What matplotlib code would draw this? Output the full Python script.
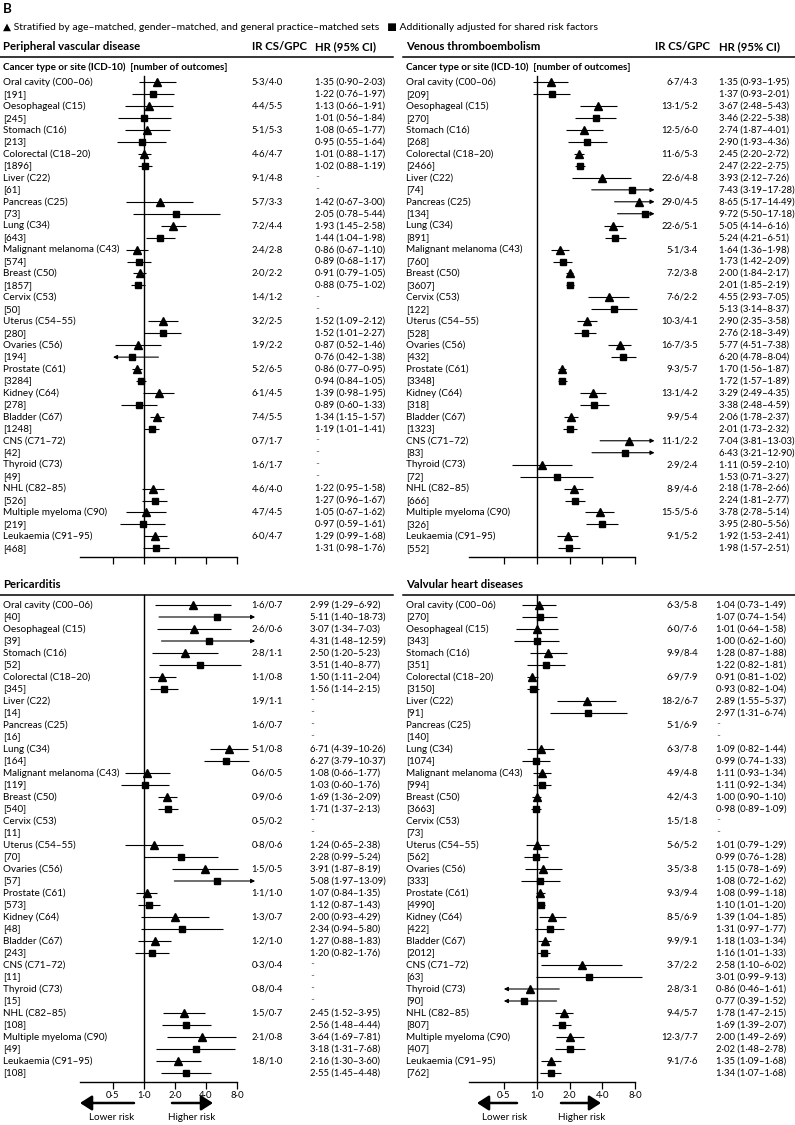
import numpy as np
import matplotlib
matplotlib.use('Agg')
import matplotlib.pyplot as plt
from matplotlib.transforms import blended_transform_factory
from matplotlib.ticker import NullLocator

plt.rcParams['font.family'] = ['Lato', 'DejaVu Sans']

W, H = 795, 1125

cancers = ["Oral cavity (C00–06)", "Oesophageal (C15)", "Stomach (C16)", "Colorectal (C18–20)",
           "Liver (C22)", "Pancreas (C25)", "Lung (C34)", "Malignant melanoma (C43)", "Breast (C50)",
           "Cervix (C53)", "Uterus (C54–55)", "Ovaries (C56)", "Prostate (C61)", "Kidney (C64)",
           "Bladder (C67)", "CNS (C71–72)", "Thyroid (C73)", "NHL (C82–85)",
           "Multiple myeloma (C90)", "Leukaemia (C91–95)"]

# Peripheral vascular disease
pvd_n = [191, 245, 213, 1896, 61, 73, 643, 574, 1857, 50, 280, 194, 3284, 278, 1248, 42, 49, 526, 219, 468]
pvd_ir = ["5·3/4·0", "4·4/5·5", "5·1/5·3", "4·6/4·7", "9·1/4·8", "5·7/3·3", "7·2/4·4", "2·4/2·8",
          "2·0/2·2", "1·4/1·2", "3·2/2·5", "1·9/2·2", "5·2/6·5", "6·1/4·5", "7·4/5·5", "0·7/1·7",
          "1·6/1·7", "4·6/4·0", "4·7/4·5", "6·0/4·7"]
pvd_strat = [(1.35, 0.90, 2.03), (1.13, 0.66, 1.91), (1.08, 0.65, 1.77), (1.01, 0.88, 1.17), None,
             (1.42, 0.67, 3.00), (1.93, 1.45, 2.58), (0.86, 0.67, 1.10), (0.91, 0.79, 1.05), None,
             (1.52, 1.09, 2.12), (0.87, 0.52, 1.46), (0.86, 0.77, 0.95), (1.39, 0.98, 1.95),
             (1.34, 1.15, 1.57), None, None, (1.22, 0.95, 1.58), (1.05, 0.67, 1.62), (1.29, 0.99, 1.68)]
pvd_adj = [(1.22, 0.76, 1.97), (1.01, 0.56, 1.84), (0.95, 0.55, 1.64), (1.02, 0.88, 1.19), None,
           (2.05, 0.78, 5.44), (1.44, 1.04, 1.98), (0.89, 0.68, 1.17), (0.88, 0.75, 1.02), None,
           (1.52, 1.01, 2.27), (0.76, 0.42, 1.38), (0.94, 0.84, 1.05), (0.89, 0.60, 1.33),
           (1.19, 1.01, 1.41), None, None, (1.27, 0.96, 1.67), (0.97, 0.59, 1.61), (1.31, 0.98, 1.76)]

# Venous thromboembolism
vte_n = [209, 270, 268, 2466, 74, 134, 891, 760, 3607, 122, 528, 432, 3348, 318, 1323, 83, 72, 666, 326, 552]
vte_ir = ["6·7/4·3", "13·1/5·2", "12·5/6·0", "11·6/5·3", "22·6/4·8", "29·0/4·5", "22·6/5·1", "5·1/3·4",
          "7·2/3·8", "7·6/2·2", "10·3/4·1", "16·7/3·5", "9·3/5·7", "13·1/4·2", "9·9/5·4", "11·1/2·2",
          "2·9/2·4", "8·9/4·6", "15·5/5·6", "9·1/5·2"]
vte_strat = [(1.35, 0.93, 1.95), (3.67, 2.48, 5.43), (2.74, 1.87, 4.01), (2.45, 2.20, 2.72),
             (3.93, 2.12, 7.26), (8.65, 5.17, 14.49), (5.05, 4.14, 6.16), (1.64, 1.36, 1.98),
             (2.00, 1.84, 2.17), (4.55, 2.93, 7.05), (2.90, 2.35, 3.58), (5.77, 4.51, 7.38),
             (1.70, 1.56, 1.87), (3.29, 2.49, 4.35), (2.06, 1.78, 2.37), (7.04, 3.81, 13.03),
             (1.11, 0.59, 2.10), (2.18, 1.78, 2.66), (3.78, 2.78, 5.14), (1.92, 1.53, 2.41)]
vte_adj = [(1.37, 0.93, 2.01), (3.46, 2.22, 5.38), (2.90, 1.93, 4.36), (2.47, 2.22, 2.75),
           (7.43, 3.19, 17.28), (9.72, 5.50, 17.18), (5.24, 4.21, 6.51), (1.73, 1.42, 2.09),
           (2.01, 1.85, 2.19), (5.13, 3.14, 8.37), (2.76, 2.18, 3.49), (6.20, 4.78, 8.04),
           (1.72, 1.57, 1.89), (3.38, 2.48, 4.59), (2.01, 1.73, 2.32), (6.43, 3.21, 12.90),
           (1.53, 0.71, 3.27), (2.24, 1.81, 2.77), (3.95, 2.80, 5.56), (1.98, 1.57, 2.51)]

# Pericarditis
per_n = [40, 39, 52, 345, 14, 16, 164, 119, 540, 11, 70, 57, 573, 48, 243, 11, 15, 108, 49, 108]
per_ir = ["1·6/0·7", "2·6/0·6", "2·8/1·1", "1·1/0·8", "1·9/1·1", "1·6/0·7", "5·1/0·8", "0·6/0·5",
          "0·9/0·6", "0·5/0·2", "0·8/0·6", "1·5/0·5", "1·1/1·0", "1·3/0·7", "1·2/1·0", "0·3/0·4",
          "0·8/0·4", "1·5/0·7", "2·1/0·8", "1·8/1·0"]
per_strat = [(2.99, 1.29, 6.92), (3.07, 1.34, 7.03), (2.50, 1.20, 5.23), (1.50, 1.11, 2.04), None, None,
             (6.71, 4.39, 10.26), (1.08, 0.66, 1.77), (1.69, 1.36, 2.09), None, (1.24, 0.65, 2.38),
             (3.91, 1.87, 8.19), (1.07, 0.84, 1.35), (2.00, 0.93, 4.29), (1.27, 0.88, 1.83), None, None,
             (2.45, 1.52, 3.95), (3.64, 1.69, 7.81), (2.16, 1.30, 3.60)]
per_adj = [(5.11, 1.40, 18.73), (4.31, 1.48, 12.59), (3.51, 1.40, 8.77), (1.56, 1.14, 2.15), None, None,
           (6.27, 3.79, 10.37), (1.03, 0.60, 1.76), (1.71, 1.37, 2.13), None, (2.28, 0.99, 5.24),
           (5.08, 1.97, 13.09), (1.12, 0.87, 1.43), (2.34, 0.94, 5.80), (1.20, 0.82, 1.76), None, None,
           (2.56, 1.48, 4.44), (3.18, 1.31, 7.68), (2.55, 1.45, 4.48)]

# Valvular heart diseases
val_n = [270, 343, 351, 3150, 91, 140, 1074, 994, 3663, 73, 562, 333, 4990, 422, 2012, 63, 90, 807, 407, 762]
val_ir = ["6·3/5·8", "6·0/7·6", "9·9/8·4", "6·9/7·9", "18·2/6·7", "5·1/6·9", "6·3/7·8", "4·9/4·8",
          "4·2/4·3", "1·5/1·8", "5·6/5·2", "3·5/3·8", "9·3/9·4", "8·5/6·9", "9·9/9·1", "3·7/2·2",
          "2·8/3·1", "9·4/5·7", "12·3/7·7", "9·1/7·6"]
val_strat = [(1.04, 0.73, 1.49), (1.01, 0.64, 1.58), (1.28, 0.87, 1.88), (0.91, 0.81, 1.02),
             (2.89, 1.55, 5.37), None, (1.09, 0.82, 1.44), (1.11, 0.93, 1.34), (1.00, 0.90, 1.10), None,
             (1.01, 0.79, 1.29), (1.15, 0.78, 1.69), (1.08, 0.99, 1.18), (1.39, 1.04, 1.85),
             (1.18, 1.03, 1.34), (2.58, 1.10, 6.02), (0.86, 0.46, 1.61), (1.78, 1.47, 2.15),
             (2.00, 1.49, 2.69), (1.35, 1.09, 1.68)]
val_adj = [(1.07, 0.74, 1.54), (1.00, 0.62, 1.60), (1.22, 0.82, 1.81), (0.93, 0.82, 1.04),
           (2.97, 1.31, 6.74), None, (0.99, 0.74, 1.33), (1.11, 0.92, 1.34), (0.98, 0.89, 1.09), None,
           (0.99, 0.76, 1.28), (1.08, 0.72, 1.62), (1.10, 1.01, 1.20), (1.31, 0.97, 1.77),
           (1.16, 1.01, 1.33), (3.01, 0.99, 9.13), (0.77, 0.39, 1.52), (1.69, 1.39, 2.07),
           (2.02, 1.48, 2.78), (1.34, 1.07, 1.68)]

ticks = [0.5, 1, 2, 4, 8]
tick_labels = ["0·5", "1·0", "2·0", "4·0", "8·0"]
LOW_CUT, HIGH_CUT = 0.5, 12.0
FS = 7.1       # row labels
NFS = 6.8      # numeric columns
TFS = 8.2      # panel titles


def fmt_hr(v):
    s = f"{v[0]:.2f} ({v[1]:.2f}–{v[2]:.2f})"
    return s.replace(".", "·")


def fy(py):
    return 1 - py / H


def draw_ci(ax, v, y, marker, ms):
    hr, lo, hi = v
    if lo < LOW_CUT:
        ax.annotate('', xy=(LOW_CUT, y), xytext=(hi, y), annotation_clip=False,
                    arrowprops=dict(arrowstyle='-|>', color='k', lw=0.8, mutation_scale=6,
                                    shrinkA=0, shrinkB=0))
    elif hi > HIGH_CUT:
        ax.annotate('', xy=(HIGH_CUT, y), xytext=(lo, y), annotation_clip=False,
                    arrowprops=dict(arrowstyle='-|>', color='k', lw=0.8, mutation_scale=6,
                                    shrinkA=0, shrinkB=0))
    else:
        ax.plot([lo, hi], [y, y], color='k', lw=0.8, clip_on=False, solid_capstyle='butt')
    ax.plot([hr], [y], marker=marker, ms=ms, color='k', mec='k', clip_on=False, zorder=5)


def panel(fig, title, n, ir, strat, adj, x0, x1, c, s, rule_y, first_y, step, axis_y,
          ir_right, hr_left, header=None, labels=False):
    lab_x = x0 + 3
    fig.text(lab_x / W, fy(rule_y - 10), title, fontsize=TFS, fontweight='bold', va='center')
    fig.add_artist(plt.Line2D([x0 / W, x1 / W], [fy(rule_y), fy(rule_y)], color='k', lw=1.1))
    if header is not None:
        fig.text(header[0] / W, fy(rule_y - 10), "IR CS/GPC", fontsize=TFS,
                 fontweight='bold', va='center')
        fig.text(header[1] / W, fy(rule_y - 10), "HR (95% CI)", fontsize=TFS,
                 fontweight='bold', va='center')
        fig.text(lab_x / W, fy(rule_y + 10.5), "Cancer type or site (ICD-10)  [number of outcomes]",
                 fontsize=FS, fontweight='bold', va='center')

    L, R = c - 90, c + 140
    ax = fig.add_axes([L / W, fy(axis_y), (R - L) / W, (axis_y - rule_y) / H])
    ax.set_xscale('log', base=2)
    ax.set_xlim(2 ** ((L - c) / s), 2 ** ((R - c) / s))
    ax.set_ylim((axis_y - first_y) / step, (rule_y - first_y) / step)
    ax.patch.set_visible(False)
    for sp in ['top', 'right', 'left']:
        ax.spines[sp].set_visible(False)
    ax.spines['bottom'].set_bounds(2 ** ((80 - 144) / 31), 8)
    ax.spines['bottom'].set_linewidth(1.0)
    ax.set_yticks([])
    ax.set_xticks(ticks)
    ax.xaxis.set_minor_locator(NullLocator())
    ax.tick_params(axis='x', length=5, width=0.9, direction='out', pad=1.5, labelsize=NFS)
    if labels:
        ax.set_xticklabels(tick_labels)
    else:
        ax.set_xticklabels([])

    vtop = (rule_y + 19 - first_y) / step if header is not None else (rule_y - first_y) / step
    ax.plot([1, 1], [vtop, (axis_y - first_y) / step], color='k', lw=1.0, clip_on=False)

    tr = blended_transform_factory(fig.transFigure, ax.transData)
    for i, name in enumerate(cancers):
        y1, y2 = 2 * i, 2 * i + 1
        ax.text(lab_x / W, y1, name, transform=tr, fontsize=FS, va='center')
        ax.text(lab_x / W, y2, f"[{n[i]}]", transform=tr, fontsize=FS, va='center')
        ax.text(ir_right / W, y1, ir[i], transform=tr, fontsize=NFS, va='center', ha='right')
        for v, y, mk, ms in [(strat[i], y1, '^', 5.4), (adj[i], y2, 's', 4.4)]:
            if v is None:
                ax.text(hr_left / W, y, "··", transform=tr, fontsize=NFS - 1, va='center',
                        family='DejaVu Sans')
            else:
                ax.text(hr_left / W, y, fmt_hr(v), transform=tr, fontsize=NFS, va='center')
                draw_ci(ax, v, y, mk, ms)
    return ax


fig = plt.figure(figsize=(W / 100, H / 100), dpi=100)

fig.text(3 / W, fy(9), "B", fontsize=9.5, fontweight='bold', va='center')
fig.text(3 / W, fy(28), "▲ Stratified by age–matched, gender–matched, and general practice–matched sets"
         "   ■ Additionally adjusted for shared risk factors", fontsize=7.5, va='center')

top_step = (548.3 - 82.3) / 39
panel(fig, "Peripheral vascular disease", pvd_n, pvd_ir, pvd_strat, pvd_adj,
      0, 393, 144, 31, 57, 82.3, top_step, 557, 283, 315, header=(252, 315))
panel(fig, "Venous thromboembolism", vte_n, vte_ir, vte_strat, vte_adj,
      403, 795, 536.7, 32.87, 57, 82.3, top_step, 557, 698, 719, header=(655, 719))
panel(fig, "Pericarditis", per_n, per_ir, per_strat, per_adj,
      0, 393, 144, 31, 595, 605, 12.0, 1082, 283, 310, labels=True)
panel(fig, "Valvular heart diseases", val_n, val_ir, val_strat, val_adj,
      403, 795, 536.7, 32.87, 595, 605, 12.0, 1082, 698, 716, labels=True)

# risk direction arrows
arrow_kw = dict(arrowstyle='-|>,head_length=0.7,head_width=0.45', color='k', lw=1.8,
                mutation_scale=10, shrinkA=0, shrinkB=0)
for (la, lb, ra, rb, lt, rt) in [(134, 80, 172, 213, 112, 192), (517, 477, 561, 601, 505, 582)]:
    fig.add_artist(matplotlib.patches.FancyArrowPatch((la / W, fy(1103)), (lb / W, fy(1103)),
                                                      transform=fig.transFigure, **arrow_kw))
    fig.add_artist(matplotlib.patches.FancyArrowPatch((ra / W, fy(1103)), (rb / W, fy(1103)),
                                                      transform=fig.transFigure, **arrow_kw))
    fig.text(lt / W, fy(1118), "Lower risk", fontsize=FS, ha='center', va='center')
    fig.text(rt / W, fy(1118), "Higher risk", fontsize=FS, ha='center', va='center')

fig.savefig('out.png', dpi=100)
